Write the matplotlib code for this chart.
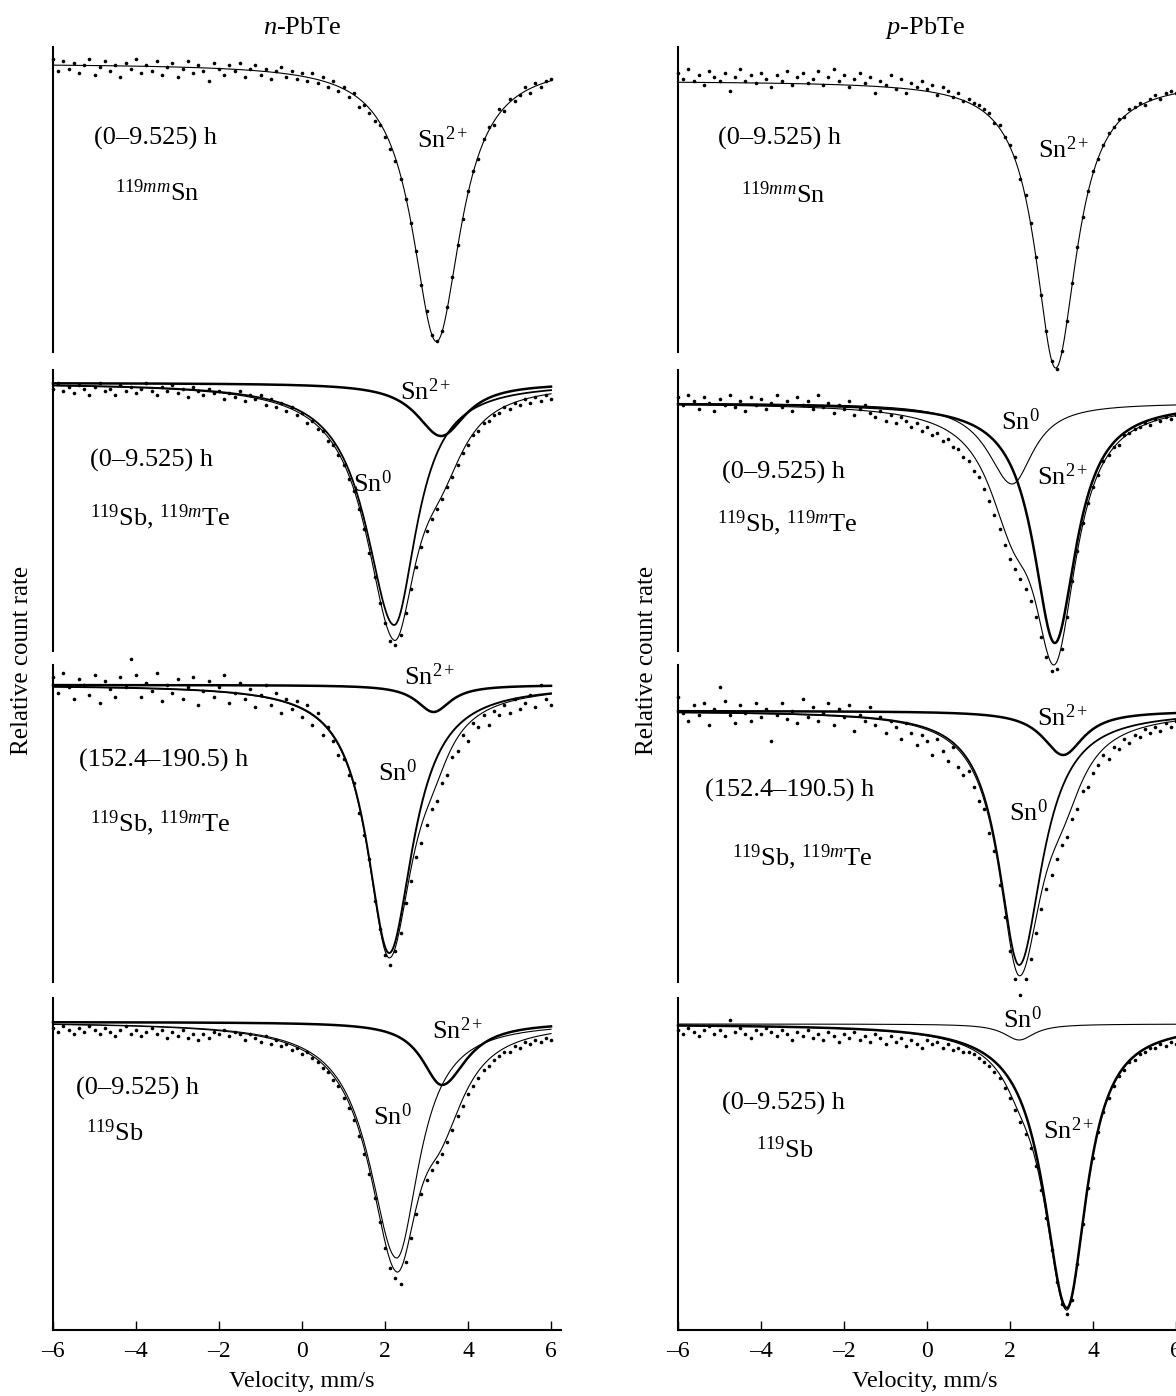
import numpy as np
import matplotlib
matplotlib.use("Agg")
import matplotlib.pyplot as plt

plt.rcParams["font.family"] = ["Liberation Serif", "DejaVu Serif"]
plt.rcParams["mathtext.fontset"] = "custom"
plt.rcParams["mathtext.rm"] = "Liberation Serif"
plt.rcParams["mathtext.it"] = "Liberation Serif:italic"
plt.rcParams["mathtext.bf"] = "Liberation Serif:bold"

# velocity channels, mm/s
velocity = np.linspace(-6, 6, 97)

# relative count rate (baseline = 1)
n_sn119mm = [1.002, .996, 1.001, .997, 1.000, .995, .999, 1.002,
             .994, .998, 1.001, .996, .999, .993, 1.000, .997,
             1.002, .995, .999, .996, 1.001, .994, .998, 1.000,
             .993, .997, 1.001, .995, .999, .996, .991, 1.000,
             .997, .994, .999, .996, 1.000, .993, .997, .999,
             .994, .997, .992, .996, .998, .993, .996, .992,
             .995, .991, .995, .990, .993, .988, .991, .986,
             .988, .983, .985, .978, .979, .975, .971, .969,
             .963, .957, .951, .942, .932, .920, .906, .889,
             .876, .864, .861, .866, .878, .893, .909, .922,
             .936, .946, .952, .962, .968, .969, .977, .976,
             .982, .981, .984, .988, .985, .990, .988, .991,
             .992]
n_sbte_early = [.997, 1.000, .996, .998, .995, .999, .997, .994,
                .998, 1.000, .996, .997, .994, .999, .996, .998,
                .995, .997, 1.000, .996, .994, .998, .996, .999,
                .995, .997, .993, .998, .996, .994, .997, .995,
                .996, .992, .995, .993, .996, .991, .994, .992,
                .994, .989, .992, .988, .990, .986, .988, .984,
                .985, .980, .981, .977, .976, .971, .969, .964,
                .959, .952, .946, .937, .927, .915, .903, .890,
                .880, .871, .869, .874, .885, .897, .908, .918,
                .926, .932, .937, .942, .948, .953, .959, .965,
                .969, .974, .976, .980, .981, .984, .985, .988,
                .987, .990, .989, .992, .990, .993, .991, .994,
                .992]
n_sbte_late = [1.004, .996, 1.006, .999, .993, 1.003, 1.000, .995,
               1.005, .991, 1.002, .998, .994, 1.004, .999, 1.013,
               1.005, .994, 1.001, .997, 1.006, .992, 1.000, .996,
               1.003, .993, .999, 1.004, .990, .997, 1.002, .994,
               .999, 1.005, .991, .996, 1.001, .993, .998, .989,
               .995, 1.000, .990, .996, .986, .993, .988, .992,
               .984, .990, .980, .986, .975, .979, .972, .965,
               .963, .955, .951, .936, .925, .913, .892, .878,
               .865, .860, .867, .876, .891, .902, .914, .921,
               .930, .938, .942, .951, .955, .964, .967, .975,
               .972, .981, .979, .985, .980, .987, .985, .990,
               .986, .993, .988, .991, .995, .989, 1.000, .993,
               .990]
n_sb = [.997, .995, .998, .996, .994, .997, .995, .998,
        .996, .994, .997, .995, .993, .996, .998, .994,
        .996, .993, .995, .997, .994, .996, .992, .995,
        .993, .996, .992, .994, .991, .994, .992, .995,
        .994, .996, .993, .995, .994, .991, .994, .992,
        .990, .993, .989, .991, .988, .989, .986, .987,
        .984, .985, .982, .980, .977, .975, .971, .968,
        .962, .957, .951, .943, .934, .924, .912, .900,
        .887, .877, .872, .869, .880, .892, .904, .914,
        .921, .926, .930, .934, .940, .946, .953, .958,
        .964, .968, .972, .976, .978, .981, .983, .985,
        .985, .988, .987, .990, .989, .991, .990, .992,
        .991]

p_sn119mm = [1.004, 1.001, 1.006, 1.000, 1.003, .998, 1.005, 1.002,
             1.000, 1.004, .995, 1.002, 1.006, 1.000, 1.003, .999,
             1.004, 1.001, .997, 1.003, 1.000, 1.005, .998, 1.002,
             1.004, .999, 1.001, 1.005, .998, 1.002, 1.006, 1.000,
             1.003, .997, 1.001, 1.004, .999, 1.002, .994, 1.000,
             .998, 1.003, .996, 1.001, .994, .999, .997, 1.000,
             .996, .998, .993, .997, .995, .992, .994, .990,
             .991, .989, .988, .986, .984, .979, .978, .972,
             .968, .962, .951, .943, .929, .912, .893, .875,
             .860, .856, .865, .880, .899, .917, .932, .945,
             .955, .961, .968, .974, .977, .981, .982, .986,
             .987, .989, .988, .991, .993, .991, .994, .995,
             .994]
p_sbte_early = [1.003, .999, 1.004, 1.001, .997, 1.003, 1.000, .996,
                1.002, .999, 1.004, .998, 1.001, .996, 1.003, .999,
                1.002, .997, 1.000, 1.004, .998, 1.001, .996, 1.003,
                .999, 1.001, .997, 1.004, .998, 1.000, .995, .999,
                .997, 1.001, .994, .997, .999, .995, .993, .996,
                .991, .994, .990, .993, .991, .988, .990, .986,
                .988, .984, .985, .981, .982, .978, .977, .973,
                .971, .966, .963, .957, .951, .944, .937, .929,
                .922, .917, .912, .907, .901, .893, .883, .873,
                .866, .867, .877, .893, .911, .926, .940, .950,
                .958, .964, .971, .974, .978, .979, .984, .985,
                .987, .988, .990, .989, .992, .991, .993, .992,
                .994]
p_sbte_late = [1.007, .999, .995, 1.003, .998, 1.004, .993, 1.001,
               1.012, 1.005, .998, .994, 1.003, .999, .995, 1.004,
               .997, 1.001, .985, .998, 1.004, .996, 1.000, .994,
               1.006, .997, 1.002, .995, .999, 1.004, .993, 1.001,
               .997, 1.003, .990, .998, .995, 1.002, .993, .997,
               .989, .995, .992, .986, .994, .989, .983, .988,
               .985, .978, .986, .980, .975, .982, .972, .968,
               .970, .962, .955, .951, .939, .930, .913, .897,
               .880, .866, .858, .866, .876, .889, .901, .911,
               .918, .926, .933, .937, .946, .951, .960, .962,
               .969, .973, .978, .976, .982, .981, .986, .984,
               .988, .987, .991, .989, .992, .990, .994, .992,
               .995]
p_sb = [.997, .995, .998, .996, .994, .997, .999, .995,
        .997, .994, 1.002, .996, .998, .995, .993, .997,
        .995, .998, .996, .994, .997, .995, .992, .996,
        .994, .997, .993, .995, .992, .996, .994, .991,
        .995, .993, .996, .992, .994, .991, .995, .993,
        .990, .994, .991, .993, .989, .992, .990, .988,
        .992, .990, .991, .988, .990, .987, .988, .986,
        .986, .985, .983, .981, .979, .976, .973, .968,
        .963, .957, .951, .945, .938, .929, .917, .903,
        .887, .871, .860, .855, .862, .880, .900, .918,
        .933, .946, .956, .963, .969, .974, .977, .981,
        .982, .985, .986, .988, .988, .990, .989, .991,
        .990]

# fitted subspectra: (centre mm/s, depth, HWHM left, HWHM right)
n_sn119mm_fit = [(3.24, 0.139, 0.71, 0.71)]
n_sbte_early_fit = [(2.22, 0.121, 0.82, 0.66), (3.35, 0.0265, 0.72, 0.72)]
n_sbte_late_fit = [(2.10, 0.134, 0.65, 0.70), (3.17, 0.0135, 0.50, 0.50)]
n_sb_fit = [(2.28, 0.118, 0.80, 0.66), (3.37, 0.0315, 0.58, 0.72)]
p_sn119mm_fit = [(3.10, 0.1435, 0.60, 0.62)]
p_sbte_early_fit = [(2.05, 0.0405, 0.72, 0.62), (3.08, 0.120, 0.63, 0.63)]
p_sbte_late_fit = [(2.22, 0.127, 0.60, 0.68), (3.28, 0.022, 0.60, 0.60)]
p_sb_fit = [(2.22, 0.008, 0.45, 0.45), (3.37, 0.142, 0.68, 0.58)]

ticks = [-6, -4, -2, 0, 2, 4, 6]
tick_labels = ["\u20136", "\u20134", "\u20132", "0", "2", "4", "6"]

W, H = 1176, 1396
fig = plt.figure(figsize=(W / 100, H / 100), dpi=100)


def fx(x):
    return x / W


def fy(y):
    return 1 - y / H


def lorentz(v, c, d, gl, gr):
    g = np.where(v < c, gl, gr)
    return d / (1 + ((v - c) / g) ** 2)


col_left = {"n": 53, "p": 678}
rows = [(47, 352), (370, 651), (665, 982), (998, 1330)]
base_px = {"n": [63.5, 383, 685, 1022], "p": [81, 403, 711, 1024]}
ax_w = 508.4


def draw_panel(col, row, rate, comps, comp_lw):
    top, bottom = rows[row]
    base = base_px[col][row]
    ax = fig.add_axes([fx(col_left[col]), fy(bottom), ax_w / W, (bottom - top) / H])
    ax.set_xlim(-6, 6.25)
    ax.set_ylim(1 - (bottom - base) / 2000, 1 + (base - top) / 2000)
    ax.patch.set_visible(False)

    v = np.linspace(-6, 6, 800)
    total = np.ones_like(v)
    for (c, d, gl, gr), lw in zip(comps, comp_lw):
        line = lorentz(v, c, d, gl, gr)
        total = total - line
        if len(comps) > 1:
            ax.plot(v, 1 - line, color="black", lw=lw, clip_on=False)
    ax.plot(v, total, color="black", lw=0.8, clip_on=False)
    ax.plot(velocity, rate, "o", ms=2.6, color="black", mec="none", clip_on=False)

    ax.spines["top"].set_visible(False)
    ax.spines["right"].set_visible(False)
    ax.spines["left"].set_linewidth(1.5)
    ax.set_yticks([])
    if row == 3:
        ax.spines["bottom"].set_linewidth(1.5)
        ax.set_xticks(ticks)
        ax.set_xticklabels(tick_labels)
        ax.tick_params(axis="x", direction="in", length=6.5, width=1.0,
                       labelsize=17, pad=8)
    else:
        ax.spines["bottom"].set_visible(False)
        ax.set_xticks([])
    return ax


draw_panel("n", 0, n_sn119mm, n_sn119mm_fit, [0.8])
draw_panel("n", 1, n_sbte_early, n_sbte_early_fit, [1.3, 1.8])
draw_panel("n", 2, n_sbte_late, n_sbte_late_fit, [1.4, 1.8])
draw_panel("n", 3, n_sb, n_sb_fit, [0.8, 1.8])
draw_panel("p", 0, p_sn119mm, p_sn119mm_fit, [0.8])
draw_panel("p", 1, p_sbte_early, p_sbte_early_fit, [0.8, 1.8])
draw_panel("p", 2, p_sbte_late, p_sbte_late_fit, [1.3, 1.8])
draw_panel("p", 3, p_sb, p_sb_fit, [0.8, 1.8])

fs = 19
labels = [
    (302, 28, r"$n$-PbTe"), (925, 28, r"$p$-PbTe"),
    # n-PbTe
    (155, 138, "(0\u20139.525) h"), (157, 193, r"$^{119mm}$Sn"), (443, 140, r"Sn$^{2+}$"),
    (426, 392, r"Sn$^{2+}$"), (152, 460, "(0\u20139.525) h"), (372, 484, r"Sn$^{0}$"),
    (160, 517, r"$^{119}$Sb, $^{119m}$Te"),
    (430, 677, r"Sn$^{2+}$"), (164, 760, "(152.4\u2013190.5) h"), (397, 773, r"Sn$^{0}$"),
    (160, 823, r"$^{119}$Sb, $^{119m}$Te"),
    (458, 1031, r"Sn$^{2+}$"), (138, 1088, "(0\u20139.525) h"), (392, 1117, r"Sn$^{0}$"),
    (115, 1133, r"$^{119}$Sb"),
    # p-PbTe
    (780, 138, "(0\u20139.525) h"), (783, 195, r"$^{119mm}$Sn"), (1064, 150, r"Sn$^{2+}$"),
    (1020, 422, r"Sn$^{0}$"), (783, 472, "(0\u20139.525) h"), (1063, 477, r"Sn$^{2+}$"),
    (787, 523, r"$^{119}$Sb, $^{119m}$Te"),
    (1063, 718, r"Sn$^{2+}$"), (790, 790, "(152.4\u2013190.5) h"), (1028, 813, r"Sn$^{0}$"),
    (802, 857, r"$^{119}$Sb, $^{119m}$Te"),
    (1022, 1020, r"Sn$^{0}$"), (783, 1103, "(0\u20139.525) h"), (1069, 1131, r"Sn$^{2+}$"),
    (785, 1150, r"$^{119}$Sb"),
]
for x, y, s in labels:
    fig.text(fx(x), fy(y), s, ha="center", va="center", fontsize=fs)

for x in (22, 647):
    fig.text(fx(x), fy(660), "Relative count rate", rotation=90,
             ha="center", va="center", fontsize=18)
for x in (302, 925):
    fig.text(fx(x), fy(1382), "Velocity, mm/s", ha="center", va="center", fontsize=17.5)

fig.savefig("out.png", dpi=100)
